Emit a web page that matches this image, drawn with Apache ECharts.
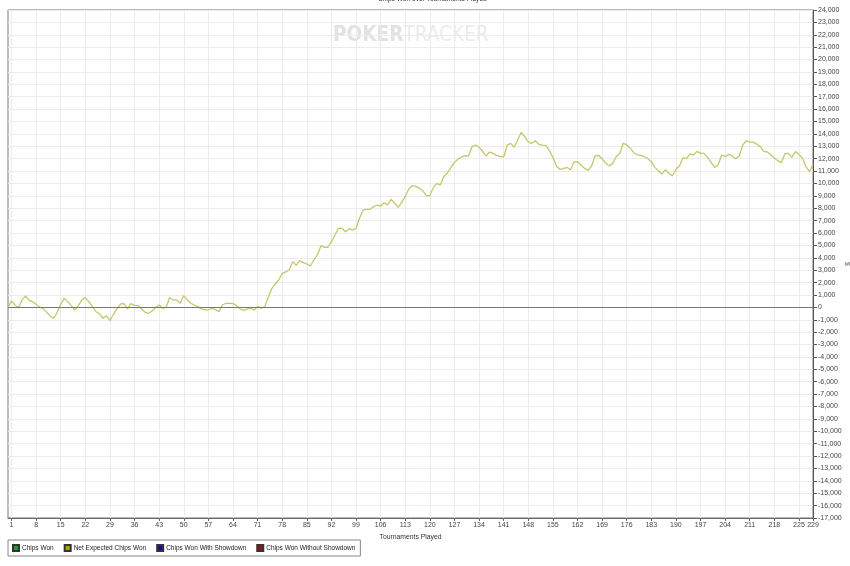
<!DOCTYPE html>
<html>
<head>
<meta charset="utf-8">
<script src="https://cdn.jsdelivr.net/npm/echarts@6/dist/echarts.min.js"></script>
<style>
html,body{margin:0;padding:0;background:#fff;}
#chart{width:850px;height:566px;}
</style>
</head>
<body>
<div id="chart"></div>
<script>
// Net expected chips won, index = tournaments played (0..229)
const netExpectedChipsWon = [
  0, 520, 190, -20, 600, 920, 570, 460, 250, 30,
  -100, -400, -690, -880, -400, 250, 730, 460, 140, -210,
  140, 600, 790, 460, 60, -340, -510, -880, -670, -1070,
  -560, -130, 270, 300, -130, 300, 160, 140, -130, -400,
  -480, -290, -20, 190, -75, 30, 790, 600, 600, 330,
  950, 600, 330, 190, 60, -130, -210, -210, -75, -180,
  -340, 190, 330, 330, 300, 140, -130, -240, -130, -75,
  -210, 80, -75, 60, 780, 1500, 1890, 2210, 2750, 2860,
  3020, 3690, 3390, 3770, 3610, 3500, 3340, 3830, 4230, 4960,
  4850, 4850, 5300, 5840, 6380, 6380, 6110, 6350, 6250, 6380,
  7190, 7860, 7910, 7910, 8130, 8260, 8180, 8450, 8260, 8720,
  8400, 8070, 8500, 8930, 9560, 9820, 9770, 9630, 9400, 9010,
  9030, 9660, 10010, 9870, 10590, 10850, 11280, 11720, 11950, 12140,
  12240, 12220, 12970, 13100, 12920, 12600, 12220, 12540, 12430, 12270,
  12190, 12140, 13100, 13240, 12920, 13510, 14130, 13780, 13350, 13240,
  13450, 13160, 13100, 13080, 12650, 12110, 11410, 11140, 11190, 11300,
  11080, 11730, 11760, 11490, 11220, 11060, 11410, 12220, 12270, 12000,
  11650, 11420, 11600, 12150, 12420, 13230, 13130, 12860, 12480, 12300,
  12270, 12160, 12000, 11760, 11300, 11030, 10760, 11110, 10820, 10600,
  11140, 11410, 12060, 12000, 12380, 12300, 12590, 12430, 12430, 12110,
  11730, 11300, 11490, 12300, 12160, 12350, 12220, 12000, 12220, 13100,
  13450, 13340, 13340, 13180, 12970, 12590, 12540, 12320, 12060, 11840,
  11680, 12400, 12430, 12110, 12570, 12350, 12030, 11360, 10950, 11570
];
const xTickLabels = [1, 8, 15, 22, 29, 36, 43, 50, 57, 64, 71, 78, 85, 92, 99, 106, 113, 120, 127, 134, 141, 148, 155, 162, 169, 176, 183, 190, 197, 204, 211, 218, 225, 229];
const seriesNames = ['Chips Won', 'Net Expected Chips Won', 'Chips Won With Showdown', 'Chips Won Without Showdown'];
const seriesColors = ['#1e9e1e', '#a8a800', '#10109a', '#a01010'];

const chart = echarts.init(document.getElementById('chart'), null, {renderer: 'canvas'});
const font = 'Liberation Sans, Arial, sans-serif';

const lineData = netExpectedChipsWon.map((v, i) => [i, v]);

const series = seriesNames.map((name, k) => ({
  name: name,
  type: 'line',
  data: k === 1 ? lineData : [],
  showSymbol: false,
  symbol: 'none',
  lineStyle: {color: k === 1 ? '#c4c86c' : seriesColors[k], width: 1.3},
  itemStyle: {color: seriesColors[k], borderColor: '#333', borderWidth: 0.6},
  z: 3,
  animation: false
}));
series[1].markLine = {
  silent: true,
  symbol: ['none', 'none'],
  label: {show: false},
  lineStyle: {color: '#777', width: 1.2, type: 'solid'},
  data: [{yAxis: 0}],
  animation: false
};
series[1].z = 4;

chart.setOption({
  animation: false,
  backgroundColor: '#fff',
  textStyle: {fontFamily: font},
  graphic: [
    {type: 'text', left: 378, top: -4, style: {text: 'Chips Won over Tournaments Played', fontSize: 6.6, fill: '#333', fontFamily: font}},
    {type: 'text', left: 333, top: 24, scaleX: 0.84, style: {
      text: '{a|POKER}{b|TRACKER}',
      rich: {
        a: {fontSize: 22, fontWeight: 'bold', fill: '#e2e2e2', fontFamily: 'DejaVu Sans'},
        b: {fontSize: 22, fill: '#ebebeb', fontFamily: 'DejaVu Sans'}
      }
    }},
    {type: 'text', left: 843, top: 262, rotation: -Math.PI/2, style: {text: '$', fontSize: 7, fill: '#666', fontFamily: font}}
  ],
  grid: {left: 8, right: 37, top: 10, bottom: 48, show: true, borderColor: '#777', borderWidth: 1, containLabel: false},
  legend: {
    data: seriesNames,
    left: 8, top: 540,
    orient: 'horizontal',
    icon: 'rect',
    itemWidth: 6, itemHeight: 6, itemGap: 10,
    padding: [4, 5, 4, 4],
    borderColor: '#888', borderWidth: 1,
    textStyle: {fontSize: 6.5, color: '#222', fontFamily: font, padding: [0, 0, 0, -2]},
    selectedMode: false
  },
  xAxis: {
    type: 'value',
    min: 0, max: 229,
    name: 'Tournaments Played',
    nameLocation: 'middle',
    nameGap: 13,
    nameTextStyle: {fontSize: 6.8, color: '#333', fontFamily: font},
    axisLine: {show: true, onZero: false, lineStyle: {color: '#666'}},
    axisTick: {show: true, customValues: xTickLabels, length: 3, lineStyle: {color: '#666'}},
    axisLabel: {customValues: xTickLabels, fontSize: 7, color: '#444', margin: 4, fontFamily: font},
    splitLine: {show: true, lineStyle: {color: '#ececec', width: 1}}
  },
  yAxis: {
    type: 'value',
    position: 'right',
    min: -17000, max: 24000, interval: 1000,
    axisLine: {show: true, onZero: false, lineStyle: {color: '#555'}},
    axisTick: {show: true, inside: false, length: 4, lineStyle: {color: '#555'}},
    axisLabel: {fontSize: 7, color: '#444', margin: 5, fontFamily: font,
      formatter: v => v.toLocaleString('en-US')},
    splitLine: {show: true, lineStyle: {color: '#ececec', width: 1}}
  },
  series: series
});
</script>
</body>
</html>
